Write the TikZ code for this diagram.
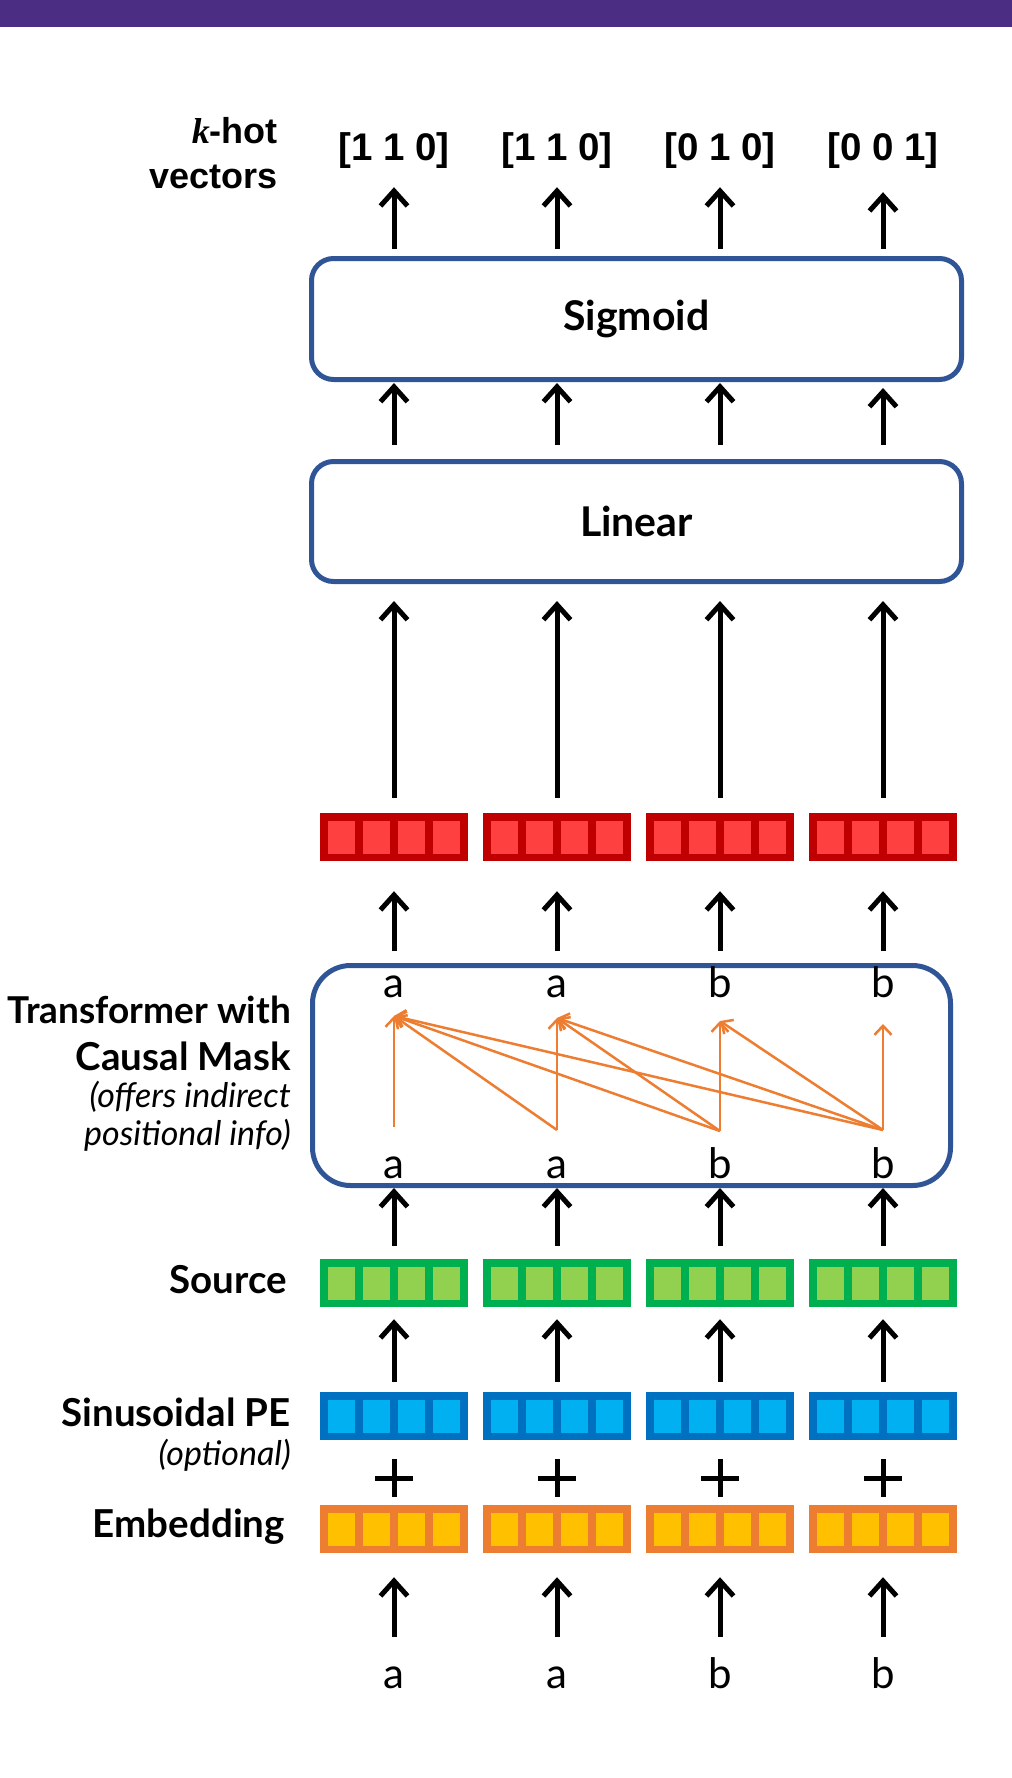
\documentclass[tikz,border=0pt]{standalone}
\usepackage{fontspec}
\setmainfont{Lato}
\newfontfamily\arialfont{Liberation Sans}
\newfontfamily\serifit{Liberation Serif}
\usetikzlibrary{arrows.meta}
\definecolor{uwpurple}{HTML}{4B2E83}
\definecolor{boxblue}{HTML}{2F5597}
\definecolor{attnorange}{HTML}{ED7D31}
\definecolor{hidDark}{HTML}{C00000}
\definecolor{hidLight}{HTML}{FF4040}
\definecolor{srcDark}{HTML}{00B050}
\definecolor{srcLight}{HTML}{92D050}
\definecolor{peDark}{HTML}{0070C0}
\definecolor{peLight}{HTML}{00B0F0}
\definecolor{embDark}{HTML}{ED7D31}
\definecolor{embLight}{HTML}{FFC000}
\tikzset{
  vecbox/.style={minimum width=148pt, minimum height=48pt, inner sep=0pt},
  layer/.style={draw=boxblue, line width=5pt, rounded corners=22pt, inner sep=0pt,
    font=\bfseries\fontsize{41}{41}\selectfont},
  flow/.style={-{Straight Barb[length=15pt,width=27pt]}, line width=5pt},
  attn/.style={-{Straight Barb[length=9pt,width=17pt]}, attnorange, line width=2.5pt},
  plus/.style={line width=5pt},
  lbl/.style={anchor=base east, inner sep=0pt, font=\bfseries\fontsize{38.5}{38.5}\selectfont},
  note/.style={anchor=base east, inner sep=0pt, font=\itshape\fontsize{34}{34}\selectfont},
  tok/.style={anchor=base, inner sep=0pt, text height=29pt, text depth=0pt,
    font=\fontsize{42}{42}\selectfont},
  outnum/.style={anchor=base, inner sep=0pt, text depth=8pt,
    font=\arialfont\bfseries\fontsize{38.5}{38.5}\selectfont},
}
% one vector of four cells
\newcommand{\vect}[5]{%
  \node[vecbox, fill=#4] (#1) at (#2,#3) {};
  \fill[#5] (#2-66,#3-16.5) rectangle ++(27,33);
  \fill[#5] (#2-31,#3-16.5) rectangle ++(27,33);
  \fill[#5] (#2+4,#3-16.5) rectangle ++(27,33);
  \fill[#5] (#2+39,#3-16.5) rectangle ++(27,33);
}

\begin{document}
\begin{tikzpicture}[x=1pt,y=-1pt]
  \useasboundingbox (0,0) rectangle (1012,1778);
  \fill[uwpurple] (0,0) rectangle (1012,27);

  % outputs
  \node[outnum, anchor=base east, font=\arialfont\bfseries\fontsize{36}{36}\selectfont] (khot) at (278,143) {{\serifit\itshape\bfseries k}-hot};
  \node[outnum, anchor=base east, font=\arialfont\bfseries\fontsize{36}{36}\selectfont] (khotb) at (278,188) {vectors};
  \node[outnum] (out1) at (394,160) {[1 1 0]};
  \node[outnum] (out2) at (557,160) {[1 1 0]};
  \node[outnum] (out3) at (720,160) {[0 1 0]};
  \node[outnum] (out4) at (883,160) {[0 0 1]};

  % layers
  \node[layer, minimum width=650pt, minimum height=121pt] (sig) at (636.5,319) {Sigmoid};
  \node[layer, minimum width=650pt, minimum height=120pt] (lin) at (636.5,521.5) {Linear};
  \node[layer, rounded corners=38pt, minimum width=638pt, minimum height=220pt] (tf) at (631.5,1075.5) {};

  % vectors
  \vect{hid1}{394}{837}{hidDark}{hidLight}
  \vect{hid2}{557}{837}{hidDark}{hidLight}
  \vect{hid3}{720}{837}{hidDark}{hidLight}
  \vect{hid4}{883}{837}{hidDark}{hidLight}
  \vect{src1}{394}{1283}{srcDark}{srcLight}
  \vect{src2}{557}{1283}{srcDark}{srcLight}
  \vect{src3}{720}{1283}{srcDark}{srcLight}
  \vect{src4}{883}{1283}{srcDark}{srcLight}
  \vect{pe1}{394}{1416}{peDark}{peLight}
  \vect{pe2}{557}{1416}{peDark}{peLight}
  \vect{pe3}{720}{1416}{peDark}{peLight}
  \vect{pe4}{883}{1416}{peDark}{peLight}
  \vect{emb1}{394}{1529}{embDark}{embLight}
  \vect{emb2}{557}{1529}{embDark}{embLight}
  \vect{emb3}{720}{1529}{embDark}{embLight}
  \vect{emb4}{883}{1529}{embDark}{embLight}

  % tokens
  \node[tok] (tok1) at (394,1688) {a};
  \node[tok] (tok2) at (557,1688) {a};
  \node[tok] (tok3) at (720,1688) {b};
  \node[tok] (tok4) at (883,1688) {b};
  \node[tok] (tfin1) at (394,1178) {a};
  \node[tok] (tfin2) at (557,1178) {a};
  \node[tok] (tfin3) at (720,1178) {b};
  \node[tok] (tfin4) at (883,1178) {b};
  \node[tok] (tfout1) at (394,997) {a};
  \node[tok] (tfout2) at (557,997) {a};
  \node[tok] (tfout3) at (720,997) {b};
  \node[tok] (tfout4) at (883,997) {b};

  % left labels
  \node[lbl, font=\bfseries\fontsize{37}{37}\selectfont] (lbltf) at (291,1023) {Transformer with};
  \node[lbl] (lbltfb) at (291,1070) {Causal Mask};
  \node[note] (notetf) at (291,1107) {(offers indirect};
  \node[note] (notetfb) at (291,1145) {positional info)};
  \node[lbl] (lblsrc) at (287,1293) {Source};
  \node[lbl] (lblpe) at (291,1426) {Sinusoidal PE};
  \node[note] (notepe) at (291,1465) {(optional)};
  \node[lbl] (lblemb) at (285,1537) {Embedding};

  % plus signs
  \draw[plus] (375,1478) -- (413,1478) (394,1459) -- (394,1497);
  \draw[plus] (538,1478) -- (576,1478) (557,1459) -- (557,1497);
  \draw[plus] (701,1478) -- (739,1478) (720,1459) -- (720,1497);
  \draw[plus] (864,1478) -- (902,1478) (883,1459) -- (883,1497);

  % flow arrows
  \draw[flow, shorten <=22pt, shorten >=24pt] (tok1) -- (emb1);
  \draw[flow, shorten <=22pt, shorten >=24pt] (tok2) -- (emb2);
  \draw[flow, shorten <=22pt, shorten >=24pt] (tok3) -- (emb3);
  \draw[flow, shorten <=22pt, shorten >=24pt] (tok4) -- (emb4);
  \draw[flow, shorten <=10pt, shorten >=12pt] (pe1) -- (src1);
  \draw[flow, shorten <=10pt, shorten >=12pt] (pe2) -- (src2);
  \draw[flow, shorten <=10pt, shorten >=12pt] (pe3) -- (src3);
  \draw[flow, shorten <=10pt, shorten >=12pt] (pe4) -- (src4);
  \draw[flow, shorten <=13pt] (src1) -- (tf.south -| src1);
  \draw[flow, shorten <=13pt] (src2) -- (tf.south -| src2);
  \draw[flow, shorten <=13pt] (src3) -- (tf.south -| src3);
  \draw[flow, shorten <=13pt] (src4) -- (tf.south -| src4);
  \draw[flow, shorten <=12pt, shorten >=30pt] (tf.north -| hid1) -- (hid1);
  \draw[flow, shorten <=12pt, shorten >=30pt] (tf.north -| hid2) -- (hid2);
  \draw[flow, shorten <=12pt, shorten >=30pt] (tf.north -| hid3) -- (hid3);
  \draw[flow, shorten <=12pt, shorten >=30pt] (tf.north -| hid4) -- (hid4);
  \draw[flow, shorten <=15pt, shorten >=17pt] (hid1) -- (lin.south -| hid1);
  \draw[flow, shorten <=15pt, shorten >=17pt] (hid2) -- (lin.south -| hid2);
  \draw[flow, shorten <=15pt, shorten >=17pt] (hid3) -- (lin.south -| hid3);
  \draw[flow, shorten <=15pt, shorten >=17pt] (hid4) -- (lin.south -| hid4);
  \draw[flow, shorten <=14pt, shorten >=1pt] (lin.north -| out1) -- (sig.south -| out1);
  \draw[flow, shorten <=14pt, shorten >=1pt] (lin.north -| out2) -- (sig.south -| out2);
  \draw[flow, shorten <=14pt, shorten >=1pt] (lin.north -| out3) -- (sig.south -| out3);
  \draw[flow, shorten <=14pt, shorten >=6pt] (lin.north -| out4) -- (sig.south -| out4);
  \draw[flow, shorten <=7pt, shorten >=19pt] (sig.north -| out1) -- (out1);
  \draw[flow, shorten <=7pt, shorten >=19pt] (sig.north -| out2) -- (out2);
  \draw[flow, shorten <=7pt, shorten >=19pt] (sig.north -| out3) -- (out3);
  \draw[flow, shorten <=7pt, shorten >=24pt] (sig.north -| out4) -- (out4);

  % causal attention
  \coordinate (key1) at (394,1127);
  \coordinate (key2) at (557,1130);
  \coordinate (key3) at (720,1131);
  \coordinate (key4) at (883,1130);
  \coordinate (qry1) at (394,1016);
  \coordinate (qry2) at (557,1018);
  \coordinate (qry3) at (720,1021);
  \coordinate (qry4) at (883,1024);
  \draw[attn] (key1) -- (qry1);
  \draw[attn] (key2) -- (qry1);
  \draw[attn] (key2) -- (qry2);
  \draw[attn] (key3) -- (qry1);
  \draw[attn] (key3) -- (qry2);
  \draw[attn] (key3) -- (qry3);
  \draw[attn] (key4) -- (qry1);
  \draw[attn] (key4) -- (qry2);
  \draw[attn] (key4) -- (qry3);
  \draw[attn] (key4) -- (qry4);
\end{tikzpicture}
\end{document}
